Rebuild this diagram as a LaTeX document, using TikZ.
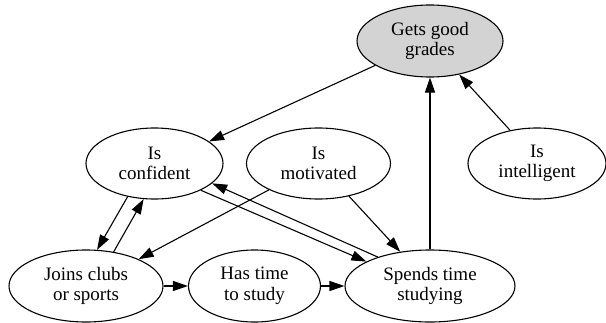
\documentclass[tikz,border=0pt]{standalone}
\usepackage{fontspec}
\setmainfont{Liberation Serif}
\usetikzlibrary{shapes.geometric,arrows.meta}
\definecolor{gvgray}{HTML}{D3D3D3}
\tikzset{
  gvnode/.style={ellipse, draw, line width=1.1pt, inner sep=0pt, align=center,
    font=\fontsize{19}{20.5}\selectfont},
  gvedge/.style={line width=1.1pt, -{Triangle[length=15pt,width=10pt]}},
}
\begin{document}
\begin{tikzpicture}[x=1pt,y=-1pt]
\useasboundingbox (0,0) rectangle (606,322);
\node[gvnode, fill=gvgray, minimum width=146pt, minimum height=72pt] (G) at (430,41) {Gets good\\grades};
\node[gvnode, minimum width=137pt, minimum height=71pt] (C) at (154.5,163.5) {Is\\confident};
\node[gvnode, minimum width=144pt, minimum height=71pt] (M) at (318.5,163.5) {Is\\motivated};
\node[gvnode, minimum width=138pt, minimum height=71pt] (I) at (537,163.5) {Is\\intelligent};
\node[gvnode, minimum width=154pt, minimum height=72pt] (J) at (86,286) {Joins clubs\\or sports};
\node[gvnode, minimum width=132pt, minimum height=72pt] (H) at (254.5,286) {Has time\\to study};
\node[gvnode, minimum width=170pt, minimum height=72pt] (S) at (430,286) {Spends time\\studying};

\draw[gvedge] (G.204) -- (C.22);
\draw[gvedge] (S.90) -- (G.270);
\draw[gvedge] (I.129) -- (G.311);
\draw[gvedge] (C.231) -- (J.73);
\draw[gvedge] (J.51) -- (C.253);
\draw[gvedge] (M.208) -- (J.27);
\draw[gvedge] (C.330) -- (S.159);
\draw[gvedge] (S.151) -- (C.341);
\draw[gvedge] (M.313) -- (S.131);
\draw[gvedge] (J.east) -- (H.west);
\draw[gvedge] (H.east) -- (S.west);
\end{tikzpicture}
\end{document}
